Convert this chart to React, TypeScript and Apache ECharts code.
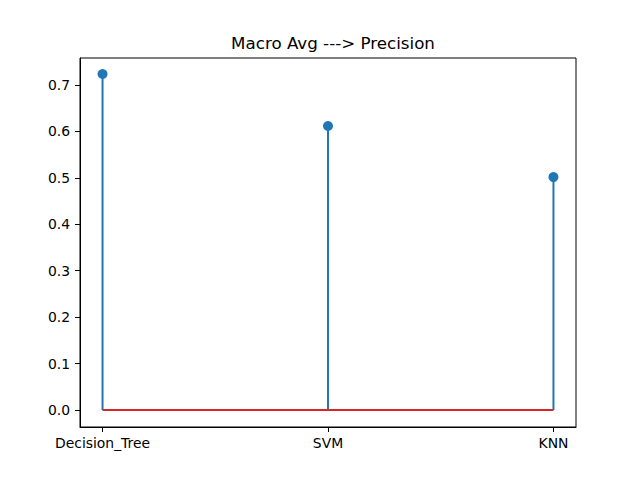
import React, { useEffect, useRef } from "react";
import * as echarts from "echarts";

const models = ["Decision_Tree", "SVM", "KNN"];
const precision = [0.7235, 0.6115, 0.5015];
const yTicks = [0, 0.1, 0.2, 0.3, 0.4, 0.5, 0.6, 0.7];

const FONT = "'DejaVu Sans', sans-serif";

const App: React.FC = () => {
  const chartRef = useRef<HTMLDivElement | null>(null);

  useEffect(() => {
    if (!chartRef.current) return;
    const chart = echarts.init(chartRef.current, null, { renderer: "svg" });

    const points = precision.map((v, i) => [i, v]);

    const option = {
      animation: false,
      backgroundColor: "#ffffff",
      title: {
        text: "Macro Avg ---> Precision",
        left: 328,
        top: 29,
        textAlign: "center",
        textStyle: { fontFamily: FONT, fontSize: 16.7, fontWeight: "normal", color: "#000" },
      },
      grid: {
        left: 80,
        right: 64,
        top: 58,
        bottom: 53,
        show: true,
        borderColor: "#000",
        borderWidth: 1,
        backgroundColor: "transparent",
      },
      xAxis: {
        type: "value",
        min: -0.1,
        max: 2.1,
        splitLine: { show: false },
        axisLine: { show: true, onZero: false, lineStyle: { color: "#000", width: 1 } },
        axisTick: {
          show: true,
          length: 5,
          inside: false,
          customValues: [0, 1, 2],
          lineStyle: { color: "#000" },
        },
        axisLabel: {
          customValues: [0, 1, 2],
          margin: 9,
          fontFamily: FONT,
          fontSize: 13.9,
          color: "#000",
          formatter: (v: number) => models[Math.round(v)] ?? "",
        },
      },
      yAxis: {
        type: "value",
        min: -0.0366,
        max: 0.758,
        splitLine: { show: false },
        axisLine: { show: true, onZero: false, lineStyle: { color: "#000", width: 1 } },
        axisTick: {
          show: true,
          length: 5,
          inside: false,
          customValues: yTicks,
          lineStyle: { color: "#000" },
        },
        axisLabel: {
          customValues: yTicks,
          margin: 10,
          fontFamily: FONT,
          fontSize: 13.9,
          color: "#000",
          formatter: (v: number) => v.toFixed(1),
        },
      },
      series: [
        {
          type: "line",
          data: [
            [0, 0],
            [models.length - 1, 0],
          ],
          symbol: "none",
          lineStyle: { color: "#d62728", width: 2 },
          z: 3,
        },
        {
          type: "custom",
          data: points,
          renderItem: (_params: any, api: any) => {
            const x = api.value(0);
            const y = api.value(1);
            const p0 = api.coord([x, 0]);
            const p1 = api.coord([x, y]);
            return {
              type: "line",
              shape: { x1: p0[0], y1: p0[1], x2: p1[0], y2: p1[1] },
              style: { stroke: "#1f77b4", lineWidth: 2 },
            };
          },
          z: 2,
        },
        {
          type: "scatter",
          data: points,
          symbol: "circle",
          symbolSize: 10,
          itemStyle: { color: "#1f77b4", opacity: 1 },
          z: 4,
        },
      ],
    };

    chart.setOption(option);
    return () => {
      chart.dispose();
    };
  }, []);

  return (
    <div
      ref={chartRef}
      style={{ position: "fixed", left: 0, top: 0, width: 640, height: 480 }}
    />
  );
};

export default App;
